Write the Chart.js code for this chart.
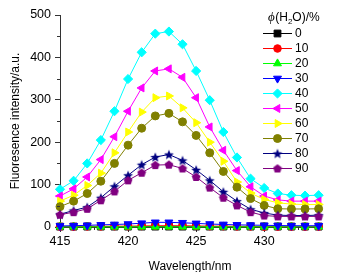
<!DOCTYPE html>
<html>
<head>
<meta charset="utf-8">
<script src="https://cdn.jsdelivr.net/npm/chart.js@4.4.0/dist/chart.umd.min.js"></script>
<style>
  html, body { margin: 0; padding: 0; background: #fff; }
  #wrap { width: 355px; height: 272px; }
</style>
</head>
<body>
<div id="wrap"><canvas id="fluoChart" width="355" height="272"></canvas></div>
<script>
// wavelength (nm)
const wavelengths = [415, 416, 417, 418, 419, 420, 421, 422, 423, 424, 425, 426, 427, 428, 429, 430, 431, 432, 433, 434];

// water fraction labels (%)
const fractions = ['0', '10', '20', '30', '40', '50', '60', '70', '80', '90'];

// intensities
const w0  = [1, 1, 1, 1, 1, 1, 1, 1, 1, 1, 1, 1, 1, 1, 1, 1, 1, 1, 1, 1];
const w10 = [1, 1, 1.5, 1.5, 2, 2, 2.5, 3, 3, 3, 2.5, 2, 2, 1.5, 1.5, 1, 1, 1, 1, 1];
const w20 = [0.5, 0.5, 0.5, 0.5, 0.5, 0.5, 0.5, 0.5, 0.5, 0.5, 0.5, 0.5, 0.5, 0.5, 0.5, 0.5, 0.5, 0.5, 0.5, 0.5];
const w30 = [2.5, 3, 4, 5, 6, 7, 9, 11, 11, 10, 8.5, 7, 6, 5, 4.5, 4, 3.5, 3, 3, 3];
const w40 = [89, 109, 150, 205, 273, 349, 412, 456, 461, 431, 368, 299, 224, 164, 114, 92, 79, 75, 74, 75];
const w50 = [73, 90, 118, 159, 213, 273, 328, 368, 373, 353, 305, 236, 181, 133, 95, 73, 64, 61, 61, 61];
const w60 = [61, 75, 98, 127, 175, 224, 271, 305, 309, 281, 246, 200, 155, 106, 80, 65, 57, 54, 53, 53];
const w70 = [48, 61, 79, 108, 150, 193, 233, 262, 268, 248, 216, 175, 131, 94, 67, 51, 43, 42.5, 42.5, 43];
const w80 = [30, 39, 47, 69, 96, 122, 147, 165, 171, 157, 135, 110, 83, 61, 42, 33, 28, 27, 27, 28];
const w90 = [29, 35, 43, 63, 84, 110, 128, 146, 147, 138, 118, 93, 69, 51, 35, 27, 25, 25, 25, 25];

const xTicks = [415, 420, 425, 430];
const xMinor = [417.5, 422.5, 427.5, 432.5];
const yTicks = [0, 100, 200, 300, 400, 500];
const yMinor = [50, 150, 250, 350, 450];

const colors = ['#000000', '#ff0000', '#00ff00', '#0000ff', '#00ffff', '#ff00ff', '#ffff00', '#808000', '#000080', '#800080'];

// filled star / pentagon markers as small canvases
function polyMarker(color, n, outer, inner, size) {
    const c = document.createElement('canvas');
    c.width = size; c.height = size;
    const g = c.getContext('2d');
    g.fillStyle = color;
    g.beginPath();
    const steps = inner ? n * 2 : n;
    for (let i = 0; i < steps; i++) {
        const r = inner && i % 2 ? inner : outer;
        const a = -Math.PI / 2 + i * 2 * Math.PI / steps;
        const px = size / 2 + r * Math.cos(a);
        const py = size / 2 + r * Math.sin(a) + (inner ? 0.5 : 0.4);
        if (i === 0) g.moveTo(px, py); else g.lineTo(px, py);
    }
    g.closePath();
    g.fill();
    return c;
}

const starImg = polyMarker('#000080', 5, 5.2, 2.3, 12);
const pentImg = polyMarker('#800080', 5, 4.6, 0, 10);

const styles = [
    { pointStyle: 'rect', rotation: 0, radius: 4.8 },
    { pointStyle: 'circle', rotation: 0, radius: 3.8 },
    { pointStyle: 'triangle', rotation: 0, radius: 4.6 },
    { pointStyle: 'triangle', rotation: 180, radius: 4.6 },
    { pointStyle: 'rectRot', rotation: 0, radius: 4.6 },
    { pointStyle: 'triangle', rotation: -90, radius: 4.6 },
    { pointStyle: 'triangle', rotation: 90, radius: 4.6 },
    { pointStyle: 'circle', rotation: 0, radius: 4 },
    { pointStyle: starImg, rotation: 0, radius: 5 },
    { pointStyle: pentImg, rotation: 0, radius: 4.5 }
];

const series = [w0, w10, w20, w30, w40, w50, w60, w70, w80, w90];

const datasets = series.map((vals, i) => ({
    label: fractions[i],
    data: wavelengths.map((w, k) => ({ x: w, y: vals[k] })),
    borderColor: colors[i],
    backgroundColor: colors[i],
    borderWidth: 1,
    pointStyle: styles[i].pointStyle,
    pointRotation: styles[i].rotation,
    pointRadius: styles[i].radius,
    pointBorderWidth: 1,
    pointBorderColor: colors[i],
    pointBackgroundColor: colors[i],
    tension: 0,
    clip: false,
    order: 10 - i
}));

const tickFont = { family: '"Liberation Sans", Arial, sans-serif', size: 12.5 };
const axisColor = '#333333';

// minor ticks + legend drawn on top
const extras = {
    id: 'extras',
    afterDraw(chart) {
        const ctx = chart.ctx;
        const xs = chart.scales.x, ys = chart.scales.y;
        ctx.save();
        ctx.strokeStyle = axisColor;
        ctx.lineWidth = 1;
        ctx.beginPath();
        xMinor.forEach(v => {
            const px = Math.round(xs.getPixelForValue(v)) + 0.5;
            ctx.moveTo(px, xs.top);
            ctx.lineTo(px, xs.top + 3);
        });
        yMinor.forEach(v => {
            const py = Math.round(ys.getPixelForValue(v)) + 0.5;
            ctx.moveTo(ys.right, py);
            ctx.lineTo(ys.right - 3, py);
        });
        ctx.stroke();

        // legend title
        ctx.fillStyle = '#000';
        ctx.textBaseline = 'alphabetic';
        ctx.textAlign = 'left';
        let tx = 268;
        const ty = 21;
        ctx.font = 'italic 13px "Liberation Serif", serif';
        ctx.fillText('ϕ', tx, ty);
        tx += ctx.measureText('ϕ').width + 0.5;
        ctx.font = '12px "Liberation Sans", Arial, sans-serif';
        ctx.fillText('(H', tx, ty);
        tx += ctx.measureText('(H').width;
        ctx.font = '8px "Liberation Sans", Arial, sans-serif';
        ctx.fillText('2', tx, ty + 3);
        tx += ctx.measureText('2').width;
        ctx.font = '12px "Liberation Sans", Arial, sans-serif';
        ctx.fillText('O)/%', tx, ty);

        // legend rows
        const drawPoint = Chart.helpers && Chart.helpers.drawPoint;
        ctx.textBaseline = 'middle';
        fractions.forEach((lab, i) => {
            const y = 33.5 + i * 15;
            ctx.strokeStyle = colors[i];
            ctx.lineWidth = 1;
            ctx.beginPath();
            ctx.moveTo(263, y);
            ctx.lineTo(292, y);
            ctx.stroke();
            ctx.fillStyle = colors[i];
            if (drawPoint) {
                drawPoint(ctx, {
                    pointStyle: styles[i].pointStyle,
                    rotation: styles[i].rotation,
                    radius: styles[i].radius,
                    borderWidth: 1
                }, 277.5, y);
            }
            ctx.fillStyle = '#000';
            ctx.font = '12px "Liberation Sans", Arial, sans-serif';
            ctx.fillText(lab, 295, y + 0.5);
        });
        ctx.restore();
    }
};

const ctx = document.getElementById('fluoChart').getContext('2d');
new Chart(ctx, {
    type: 'line',
    data: { datasets: datasets },
    options: {
        responsive: false,
        animation: false,
        devicePixelRatio: 1,
        layout: { padding: { left: 0, right: 35, top: 15, bottom: 0 } },
        plugins: {
            legend: { display: false },
            tooltip: { enabled: false }
        },
        scales: {
            x: {
                type: 'linear',
                min: 415,
                max: 434.1,
                afterBuildTicks: axis => { axis.ticks = xTicks.map(v => ({ value: v })); },
                afterFit: axis => { axis.height = 45; },
                border: { display: true, color: axisColor, width: 1 },
                grid: { drawOnChartArea: false, drawTicks: true, tickLength: 5, tickColor: axisColor },
                ticks: { autoSkip: false, maxRotation: 0, color: '#000', font: tickFont, padding: 2 },
                title: {
                    display: true,
                    text: 'Wavelength/nm',
                    color: '#000',
                    font: { family: '"Liberation Sans", Arial, sans-serif', size: 12 },
                    padding: { top: 0, bottom: -2 }
                }
            },
            y: {
                type: 'linear',
                min: 0,
                max: 500,
                afterBuildTicks: axis => { axis.ticks = yTicks.map(v => ({ value: v })); },
                afterFit: axis => { axis.width = 60; },
                border: { display: true, color: axisColor, width: 1 },
                grid: { drawOnChartArea: false, drawTicks: true, tickLength: 5, tickColor: axisColor },
                ticks: { color: '#000', font: tickFont, padding: 4 },
                title: {
                    display: true,
                    text: 'Fluoresence intensity/a.u.',
                    color: '#000',
                    font: { family: '"Liberation Sans", Arial, sans-serif', size: 12 },
                    padding: { top: 8, bottom: 0 }
                }
            }
        }
    },
    plugins: [extras]
});
</script>
</body>
</html>
